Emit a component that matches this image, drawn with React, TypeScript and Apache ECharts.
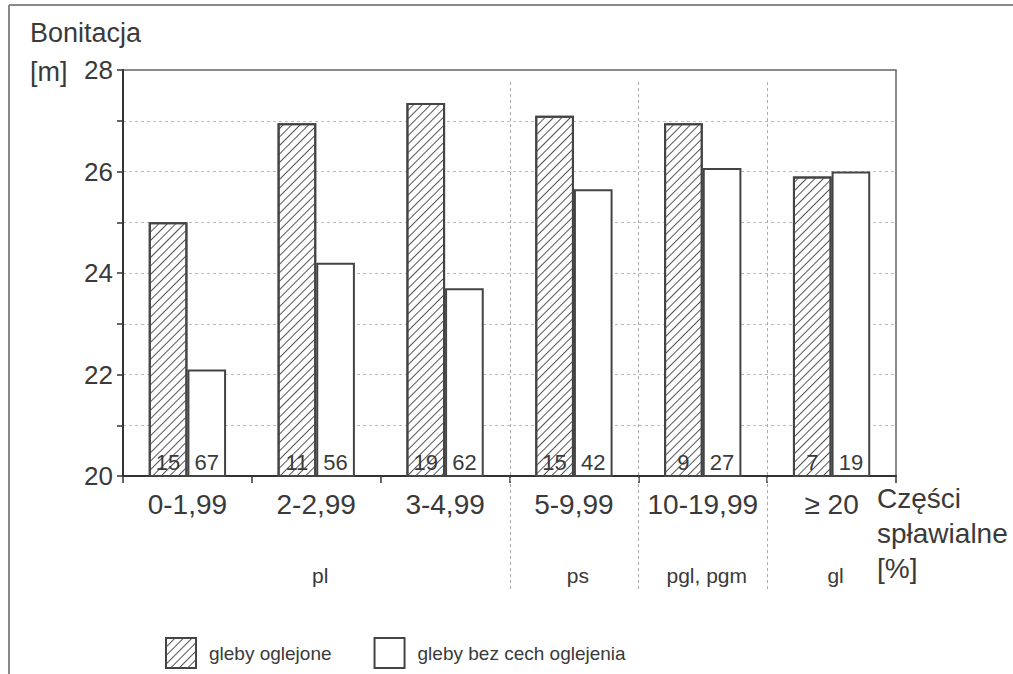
import React, { useEffect, useRef } from 'react';
import * as echarts from 'echarts';

const categories = ['0-1,99', '2-2,99', '3-4,99', '5-9,99', '10-19,99', '≥ 20'];
const glebyOglejone = [25.0, 26.95, 27.35, 27.1, 26.95, 25.9];
const glebyBezCech = [22.1, 24.2, 23.7, 25.65, 26.07, 26.0];
const countOglejone = [15, 11, 19, 15, 9, 7];
const countBezCech = [67, 56, 62, 42, 27, 19];
const yLabelTicks = [20, 22, 24, 26, 28];
const soilLabels = ['pl', 'ps', 'pgl, pgm', 'gl'];
const soilLabelCats = [1, 3, 4, 5];
const separatorsAfter = [2, 3, 4];
const seriesNames = ['gleby oglejone', 'gleby bez cech oglejenia'];

const FONT = 'Liberation Sans, Arial, Helvetica, sans-serif';
const TXT = '#3a3a3a';

export default function App() {
  const ref = useRef<HTMLDivElement>(null);
  useEffect(() => {
    if (!ref.current) return;
    const chart = echarts.init(ref.current, null, { renderer: 'svg' });
    const option: any = {
      animation: false,
      backgroundColor: '#fff',
      textStyle: { fontFamily: FONT, color: TXT },
      grid: {
        left: 123, right: 117, top: 70, bottom: 198, containLabel: false,
        show: true, borderColor: '#666', borderWidth: 1.5, backgroundColor: 'transparent',
      },
      legend: {
        data: seriesNames,
        left: 160, top: 632,
        icon: 'rect', itemWidth: 30, itemHeight: 30, itemGap: 42,
        textStyle: { fontSize: 19, color: TXT, fontFamily: FONT, padding: [0, 0, 0, 8] },
      },
      xAxis: {
        type: 'category',
        data: categories,
        axisLine: { lineStyle: { color: '#333', width: 2 } },
        axisTick: { show: true, length: 7, lineStyle: { color: '#333', width: 1.5 } },
        axisLabel: { interval: 0, fontSize: 28, color: TXT, margin: 14, fontFamily: FONT },
        splitLine: { show: false },
      },
      yAxis: {
        type: 'value', min: 20, max: 28, interval: 1,
        axisLine: { show: true, lineStyle: { color: '#333', width: 2 } },
        axisTick: { show: true, length: 6, lineStyle: { color: '#333', width: 1.5 } },
        axisLabel: {
          fontSize: 26, color: TXT, margin: 10, fontFamily: FONT,
          formatter: (v: number) => (yLabelTicks.includes(v) ? String(v) : ''),
        },
        splitLine: { show: true, showMaxLine: false, showMinLine: false, lineStyle: { color: '#bbb', type: [3, 3], width: 1 } },
      },
      series: [
        {
          name: seriesNames[0], type: 'bar', data: glebyOglejone,
          barWidth: '30%', barGap: '0%',
          itemStyle: {
            color: '#fff', borderColor: '#444', borderWidth: 2,
            decal: {
              symbol: 'rect', symbolSize: 1, dashArrayX: [1, 0], dashArrayY: [1, 5],
              rotation: -Math.PI / 4, color: '#555', backgroundColor: '#fff',
            },
          },
          label: {
            show: true, position: 'insideBottom', distance: 4, fontSize: 22, color: TXT, fontFamily: FONT,
            formatter: (p: any) => String(countOglejone[p.dataIndex]),
          },
        },
        {
          name: seriesNames[1], type: 'bar', data: glebyBezCech,
          barWidth: '30%', barGap: '0%',
          itemStyle: { color: '#fff', borderColor: '#444', borderWidth: 2 },
          label: {
            show: true, position: 'insideBottom', distance: 4, fontSize: 22, color: TXT, fontFamily: FONT,
            formatter: (p: any) => String(countBezCech[p.dataIndex]),
          },
        },
      ],
    };
    chart.setOption(option);

    const cx = (i: number) => chart.convertToPixel({ xAxisIndex: 0 }, i) as number;
    const graphics: any[] = [];
    // outer frame
    graphics.push({ type: 'line', shape: { x1: 9, y1: 5, x2: 1013, y2: 5 }, style: { stroke: '#888', lineWidth: 2 }, z: 10 });
    graphics.push({ type: 'line', shape: { x1: 9, y1: 5, x2: 9, y2: 674 }, style: { stroke: '#888', lineWidth: 2 }, z: 10 });
    // separators
    separatorsAfter.forEach((k) => {
      const x = Math.round((cx(k) + cx(k + 1)) / 2) + 0.5;
      graphics.push({ type: 'line', shape: { x1: x, y1: 82, x2: x, y2: 592 }, style: { stroke: '#aaa', lineWidth: 1, lineDash: [3, 3] }, z: 10 });
    });
    // soil group labels
    soilLabels.forEach((s, i) => {
      graphics.push({
        type: 'text', x: cx(soilLabelCats[i]) + 4, y: 575,
        style: { text: s, fontSize: 21, fontFamily: FONT, fill: TXT, align: 'center', verticalAlign: 'middle' },
      });
    });
    // axis titles
    graphics.push({ type: 'text', x: 30, y: 33, style: { text: 'Bonitacja', fontSize: 27, fontFamily: FONT, fill: TXT, align: 'left', verticalAlign: 'middle' } });
    graphics.push({ type: 'text', x: 30, y: 72, style: { text: '[m]', fontSize: 27, fontFamily: FONT, fill: TXT, align: 'left', verticalAlign: 'middle' } });
    ['Części', 'spławialne', '[%]'].forEach((t, i) => {
      graphics.push({ type: 'text', x: 877, y: 498 + i * 35, style: { text: t, fontSize: 28, fontFamily: FONT, fill: TXT, align: 'left', verticalAlign: 'middle' } });
    });
    chart.setOption({ graphic: graphics });

    return () => chart.dispose();
  }, []);
  return <div ref={ref} style={{ width: 1013, height: 674, position: 'absolute', left: 0, top: 0 }} />;
}
